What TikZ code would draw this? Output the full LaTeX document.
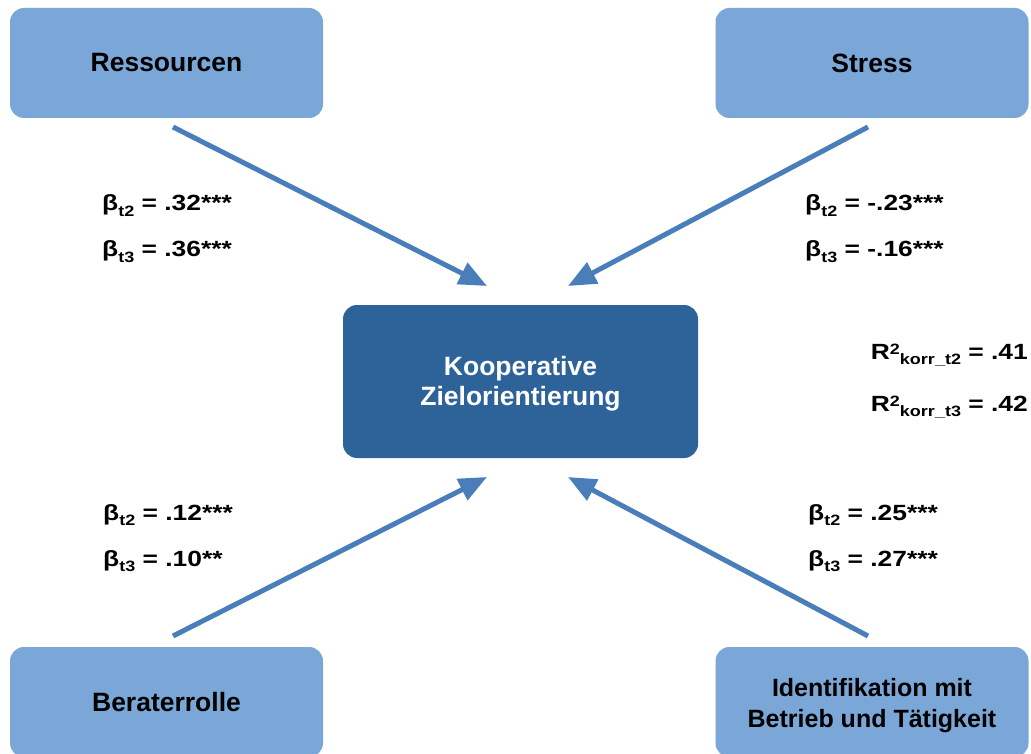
\documentclass[tikz,border=0pt]{standalone}
\usepackage{fontspec}
\setmainfont{Liberation Sans}
\newfontfamily\coeffont[FakeStretch=1.2]{Liberation Sans}
\usetikzlibrary{arrows.meta,positioning}
\definecolor{boxlight}{HTML}{7BA7D8}
\definecolor{boxdark}{HTML}{2E6399}
\definecolor{arrblue}{HTML}{4A7EBB}
\newcommand\csub[1]{\raisebox{-5.5pt}{\fontsize{15}{15}\selectfont #1}}
\newcommand\csup[1]{\raisebox{5pt}{\fontsize{15}{15}\selectfont #1}}
\tikzset{
  effarr/.style={-{Triangle[length=28pt,width=23pt]}, line width=5pt, draw=arrblue},
  diagbox/.style={rounded corners=14pt, inner sep=0pt, align=center,
    font=\fontsize{26.5}{30}\selectfont\bfseries},
  coef/.style={font=\coeffont\bfseries\fontsize{22}{26}\selectfont, inner sep=0pt},
}
\begin{document}
\begin{tikzpicture}[
  x=1pt, y=-1pt,
  factor/.style={diagbox, fill=boxlight, minimum width=313pt, minimum height=110pt},
  target/.style={diagbox, fill=boxdark, text=white, minimum width=355pt, minimum height=153pt},
]
  \useasboundingbox (0,0) rectangle (1031,754);

  \node[factor] (res)   at (166.5,63)  {Ressourcen};
  \node[factor] (str)   at (872,63)    {Stress};
  \node[target] (koop)  at (520.5,381.5) {\rule{0pt}{24pt}Kooperative\\Zielorientierung};
  \node[factor] (ber)   at (166.5,702) {Beraterrolle};
  \node[factor, font=\fontsize{25}{31}\selectfont\bfseries] (ident) at (872,702)
    {\rule{0pt}{26pt}Identifikation mit\\Betrieb und Tätigkeit};

  % arrow ends, kept apart from the boxes
  \coordinate (resout) at (173,127);  \coordinate (resin) at (487,286);
  \coordinate (strout) at (868,127);  \coordinate (strin) at (568,286);
  \coordinate (berout) at (173,636);  \coordinate (berin) at (487,477);
  \coordinate (idout)  at (868,636);  \coordinate (idin)  at (568,477);

  \draw[effarr] (resout) -- (resin);
  \draw[effarr] (strout) -- (strin);
  \draw[effarr] (berout) -- (berin);
  \draw[effarr] (idout) -- (idin);

  % coefficients
  \node[coef, anchor=base west] (cres2) at (102,211) {β\csub{t2} = .32***};
  \node[coef, anchor=base west] (cres3) at (102,257) {β\csub{t3} = .36***};
  \node[coef, anchor=base west] (cstr2) at (805,211) {β\csub{t2} = -.23***};
  \node[coef, anchor=base west] (cstr3) at (805,257) {β\csub{t3} = -.16***};
  \node[coef, anchor=base west] (cber2) at (103,520) {β\csub{t2} = .12***};
  \node[coef, anchor=base west] (cber3) at (103,566) {β\csub{t3} = .10**};
  \node[coef, anchor=base west] (cid2)  at (808,520) {β\csub{t2} = .25***};
  \node[coef, anchor=base west] (cid3)  at (808,566) {β\csub{t3} = .27***};

  \node[coef, anchor=base east] (rsq2) at (1028,359) {R\csup{2}\csub{korr\_t2} = .41};
  \node[coef, anchor=base east] (rsq3) at (1028,411) {R\csup{2}\csub{korr\_t3} = .42};
\end{tikzpicture}
\end{document}
